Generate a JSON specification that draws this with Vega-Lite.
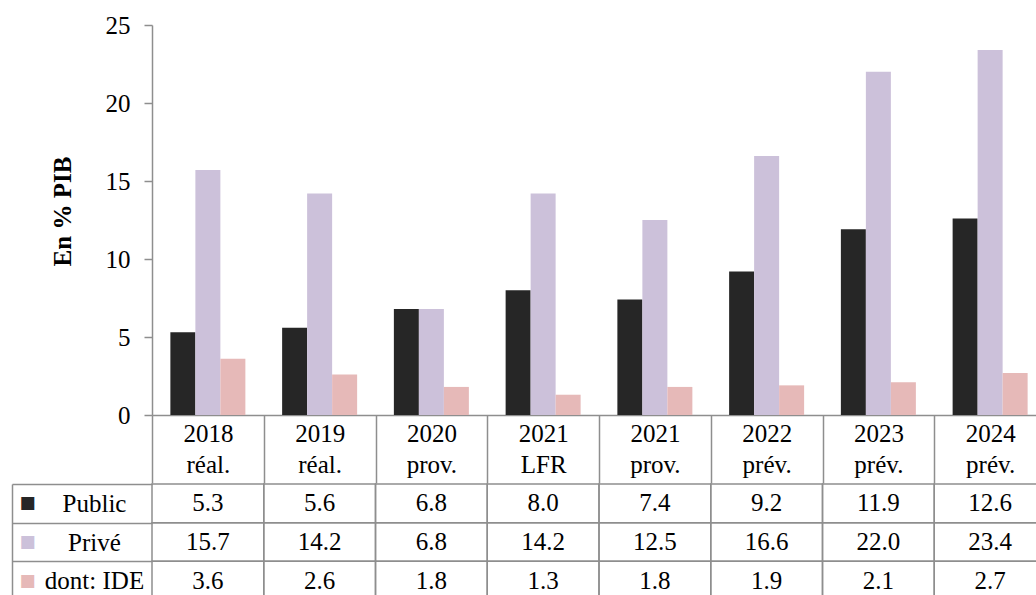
{
  "$schema": "https://vega.github.io/schema/vega-lite/v6.json",
  "padding": {"left": 11, "top": 13, "right": 0, "bottom": 0},
  "background": "white",
  "config": {
    "font": "Liberation Serif",
    "view": {"stroke": null}
  },
  "spacing": -13,
  "datasets": {
    "vals": [
      {"cat": "2018|réal.", "series": "Public", "value": 5.3},
      {"cat": "2018|réal.", "series": "Privé", "value": 15.7},
      {"cat": "2018|réal.", "series": "dont: IDE", "value": 3.6},
      {"cat": "2019|réal.", "series": "Public", "value": 5.6},
      {"cat": "2019|réal.", "series": "Privé", "value": 14.2},
      {"cat": "2019|réal.", "series": "dont: IDE", "value": 2.6},
      {"cat": "2020|prov.", "series": "Public", "value": 6.8},
      {"cat": "2020|prov.", "series": "Privé", "value": 6.8},
      {"cat": "2020|prov.", "series": "dont: IDE", "value": 1.8},
      {"cat": "2021|LFR", "series": "Public", "value": 8.0},
      {"cat": "2021|LFR", "series": "Privé", "value": 14.2},
      {"cat": "2021|LFR", "series": "dont: IDE", "value": 1.3},
      {"cat": "2021|prov.", "series": "Public", "value": 7.4},
      {"cat": "2021|prov.", "series": "Privé", "value": 12.5},
      {"cat": "2021|prov.", "series": "dont: IDE", "value": 1.8},
      {"cat": "2022|prév.", "series": "Public", "value": 9.2},
      {"cat": "2022|prév.", "series": "Privé", "value": 16.6},
      {"cat": "2022|prév.", "series": "dont: IDE", "value": 1.9},
      {"cat": "2023|prév.", "series": "Public", "value": 11.9},
      {"cat": "2023|prév.", "series": "Privé", "value": 22.0},
      {"cat": "2023|prév.", "series": "dont: IDE", "value": 2.1},
      {"cat": "2024|prév.", "series": "Public", "value": 12.6},
      {"cat": "2024|prév.", "series": "Privé", "value": 23.4},
      {"cat": "2024|prév.", "series": "dont: IDE", "value": 2.7}
    ]
  },
  "vconcat": [
    {
      "width": 894,
      "height": 390,
      "data": {"name": "vals"},
      "mark": {"type": "bar"},
      "encoding": {
        "x": {
          "field": "cat",
          "type": "nominal",
          "sort": null,
          "scale": {"paddingInner": 0, "paddingOuter": 0},
          "axis": {
            "title": null,
            "labelAngle": 0,
            "labelExpr": "split(datum.label, '|')",
            "labelFont": "Liberation Serif",
            "labelFontSize": 25,
            "labelLineHeight": 31,
            "labelColor": "#000000",
            "tickBand": "extent",
            "tickSize": 68,
            "tickColor": "#8e8e8e",
            "tickWidth": 1.5,
            "domainColor": "#8e8e8e",
            "domainWidth": 1.5,
            "labelPadding": -62
          }
        },
        "xOffset": {
          "field": "series",
          "type": "nominal",
          "sort": ["Public", "Privé", "dont: IDE"],
          "scale": {"paddingInner": 0, "paddingOuter": 0.735}
        },
        "y": {
          "field": "value",
          "type": "quantitative",
          "scale": {"domain": [0, 25]},
          "axis": {
            "title": "En % PIB",
            "titleFont": "Liberation Serif",
            "titleFontSize": 25,
            "titleFontWeight": "bold",
            "titleColor": "#000000",
            "titlePadding": 30,
            "titleY": 186,
            "values": [0, 5, 10, 15, 20, 25],
            "grid": false,
            "labelFont": "Liberation Serif",
            "labelFontSize": 25,
            "labelColor": "#000000",
            "labelPadding": 14,
            "tickSize": 8,
            "tickColor": "#8e8e8e",
            "tickWidth": 1.5,
            "domainColor": "#8e8e8e",
            "domainWidth": 1.5
          }
        },
        "color": {
          "field": "series",
          "type": "nominal",
          "scale": {"domain": ["Public", "Privé", "dont: IDE"], "range": ["#262626", "#ccc1da", "#e6b9b8"]},
          "legend": null
        }
      }
    },
    {
      "width": 894,
      "height": 116,
      "data": {"name": "vals"},
      "resolve": {"axis": {"y": "independent"}},
      "layer": [
        {
          "mark": {"type": "rect", "fill": null, "stroke": "#8e8e8e", "strokeWidth": 1.5},
          "encoding": {
            "x": {"field": "cat", "type": "nominal", "sort": null, "scale": {"paddingInner": 0, "paddingOuter": 0}, "axis": null},
            "y": {
              "field": "series",
              "type": "nominal",
              "scale": {"domain": ["Public", "Privé", "dont: IDE"], "paddingInner": 0, "paddingOuter": 0},
              "axis": {
                "orient": "left",
                "title": null,
                "tickBand": "extent",
                "tickSize": 140,
                "tickColor": "#8e8e8e",
                "tickWidth": 1.5,
                "domain": false,
                "labelFont": "Liberation Serif",
                "labelFontSize": 25,
                "labelColor": "#000000",
                "labelAlign": "center",
                "labelPadding": -82
              }
            }
          }
        },
        {
          "mark": {"type": "text", "font": "Liberation Serif", "fontSize": 25, "color": "#000000"},
          "encoding": {
            "x": {"field": "cat", "type": "nominal", "sort": null, "scale": {"paddingInner": 0, "paddingOuter": 0}, "axis": null},
            "y": {
              "field": "series",
              "type": "nominal",
              "scale": {"domain": ["Public", "Privé", "dont: IDE"], "paddingInner": 0, "paddingOuter": 0},
              "axis": {
                "orient": "left",
                "title": null,
                "offset": 140,
                "ticks": false,
                "tickSize": 0,
                "domain": true,
                "domainColor": "#8e8e8e",
                "domainWidth": 1.5,
                "labelExpr": "'■'",
                "labelFont": "DejaVu Sans",
                "labelFontSize": 17,
                "labelAlign": "left",
                "labelPadding": -7,
                "labelColor": {
                  "condition": [
                    {"test": "datum.value === 'Public'", "value": "#262626"},
                    {"test": "datum.value === 'Privé'", "value": "#ccc1da"}
                  ],
                  "value": "#e6b9b8"
                }
              }
            },
            "text": {"field": "value", "type": "quantitative", "format": ".1f"}
          }
        }
      ]
    }
  ]
}
